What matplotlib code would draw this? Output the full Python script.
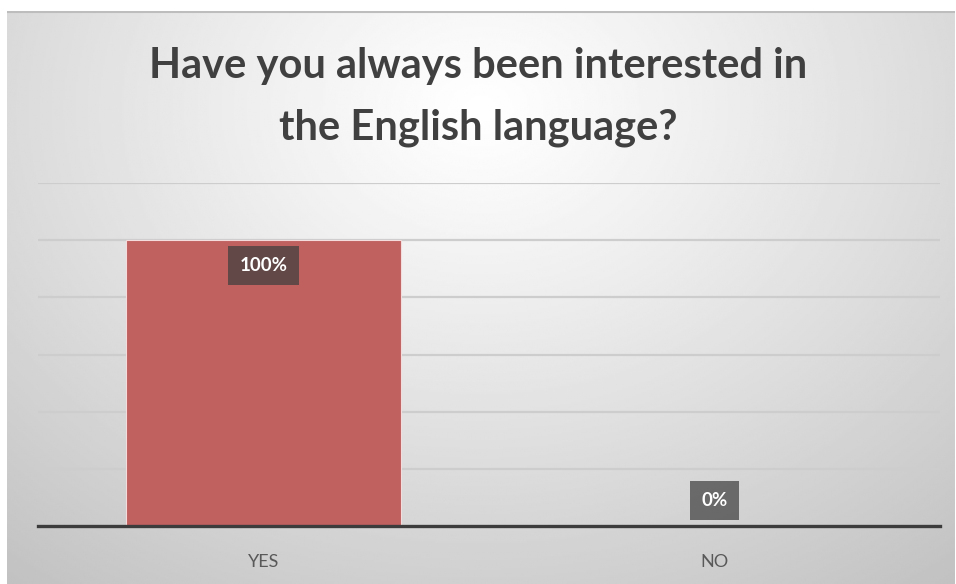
import matplotlib.pyplot as plt
import numpy as np

categories = ["YES", "NO"]
values = [100, 0]
labels = ["100%", "0%"]
title = "Have you always been interested in\nthe English language?"

W, H = 956, 584
fig = plt.figure(figsize=(W / 100, H / 100), dpi=100, facecolor="white")

# radial gray background panel
bg = fig.add_axes([7 / W, 0, 948 / W, 573 / H])
yy, xx = np.mgrid[0:1:300j, 0:1:500j]
d = np.sqrt(((xx - 0.5) / 0.8) ** 2 + ((yy - 0.17) / 1.05) ** 2)
shade = np.clip(1.0 - 0.24 * d ** 1.1, 0, 1)
bg.imshow(shade, cmap="gray", vmin=0, vmax=1, aspect="auto",
          extent=[0, 1, 0, 1], origin="upper", interpolation="bilinear")
bg.axis("off")
bg.plot([0, 1], [0.998, 0.998], color="#bdbdbd", lw=1.5, transform=bg.transAxes)

ax = fig.add_axes([38 / W, (H - 526) / H, 902 / W, 343 / H])
ax.patch.set_alpha(0)
ax.set_xlim(-0.5, 1.5)
ax.set_ylim(0, 120)
ax.set_yticks(range(20, 121, 20))
ax.yaxis.grid(True, color="#cdcdcd", lw=1.6)
ax.set_axisbelow(True)
for s in ax.spines.values():
    s.set_visible(False)
ax.tick_params(axis="y", left=False, labelleft=False)
ax.tick_params(axis="x", bottom=False, pad=17, labelsize=13, labelcolor="#595959")

x = np.arange(len(categories))
ax.bar(x, values, width=0.608, color="#c0605f", edgecolor="#f4dcdc", linewidth=0.8, zorder=2)
ax.axhline(0, color="#3c3c3c", lw=2.4, zorder=3, clip_on=False)
ax.set_xticks(x, categories)
for lab in ax.get_xticklabels():
    lab.set_fontfamily("Lato")

for xi, v, t in zip(x, values, labels):
    ax.text(xi, v - 8.8 if v > 10 else v + 9, t, ha="center", va="center",
            color="white", fontsize=13.5, fontweight="bold", fontfamily="Lato",
            zorder=4,
            bbox=dict(boxstyle="square,pad=0.6", fc="#404040", ec="none", alpha=0.72))

fig.text(0.5, 1 - 97 / H, title, ha="center", va="center", fontsize=30,
         fontweight="bold", fontfamily="Lato", color="#404040", linespacing=1.75)

fig.savefig("out.png", dpi=100)
